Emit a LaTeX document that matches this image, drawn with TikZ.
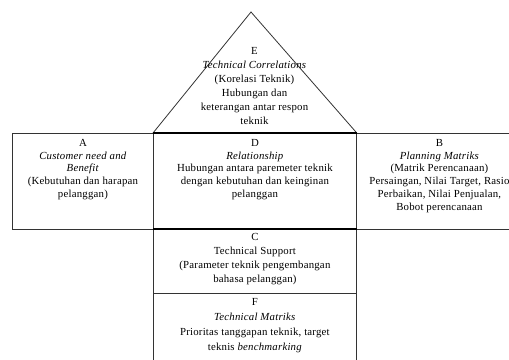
\documentclass[tikz,border=0pt]{standalone}
\usepackage{fontspec}
\setmainfont[LetterSpace=2]{Liberation Serif}
\begin{document}
\begin{tikzpicture}[x=1pt, y=-1pt, font=\fontsize{10.8}{12.8}\selectfont,
    box/.style={draw=black!80, rectangle, line width=0.8pt, anchor=north west, inner sep=0pt},
    lbl/.style={align=center, anchor=north, inner sep=0pt}]
    \useasboundingbox (0,0) rectangle (509,359);
    \clip (0,0) rectangle (509,359);

    %Place relationship node (middle of the house)
    \node[box, minimum width=203, minimum height=96] (D) at (153,133) {};

    %Place customer node
    \node[box, minimum width=141, minimum height=96] (A) at (12,133) {};

    %Place planning node
    \node[box, minimum width=166, minimum height=96] (B) at (356,133) {};

    %Place technical support node
    \node[box, minimum width=203, minimum height=64] (C) at (153,229) {};

    %Place technical matrix node
    \node[box, minimum width=203, minimum height=90] (F) at (153,293) {};

    %Draw the roof
    \coordinate (apex) at (251,12);
    \draw[draw=black!80, line width=0.8pt] (D.north west) -- (apex) -- (D.north east);
    \draw[line width=1.4pt] (D.north west) -- (D.north east);
    \draw[line width=1.4pt] (C.north west) -- (C.north east);

    %Texts
    \node[lbl, font=\fontsize{10.8}{14}\selectfont] (E text) at (254.5,47) {E\\ \textit{Technical Correlations}\\ (Korelasi Teknik)\\ Hubungan dan\\ keterangan antar respon\\ teknik};
    \node[lbl] (A text) at (A.north) [yshift=-6] {A\\ \textit{Customer need and}\\ \textit{Benefit}\\ (Kebutuhan dan harapan\\ pelanggan)};
    \node[lbl] (D text) at (D.north) [yshift=-6] {D\\ \textit{Relationship}\\ Hubungan antara paremeter teknik\\ dengan kebutuhan dan keinginan\\ pelanggan};
    \node[lbl] (B text) at (B.north) [yshift=-6] {B\\ \textit{Planning Matriks}\\ (Matrik Perencanaan)\\ Persaingan, Nilai Target, Rasio\\ Perbaikan, Nilai Penjualan,\\ Bobot perencanaan};
    \node[lbl, font=\fontsize{10.8}{14}\selectfont] (C text) at (C.north) [yshift=-4] {C\\ Technical Support\\ (Parameter teknik pengembangan\\ bahasa pelanggan)};
    \node[lbl, font=\fontsize{10.8}{15}\selectfont] (F text) at (F.north) [yshift=-5] {F\\ \textit{Technical Matriks}\\ Prioritas tanggapan teknik, target\\ teknis \textit{benchmarking}};
\end{tikzpicture}
\end{document}
